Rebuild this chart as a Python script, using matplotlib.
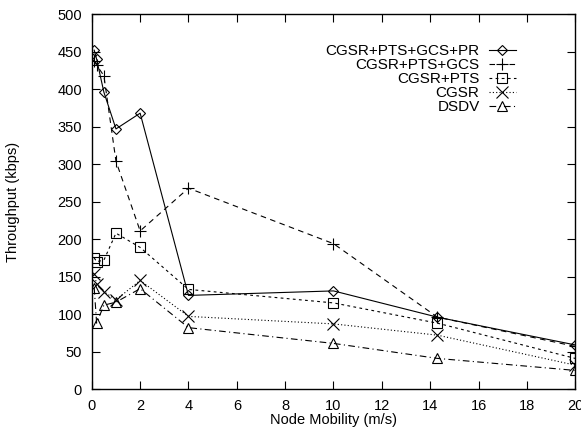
import matplotlib
matplotlib.use("Agg")
import matplotlib.pyplot as plt

x = [0.1, 0.2, 0.5, 1, 2, 4, 10, 14.3, 20]
pr = [452, 440, 396, 347, 368, 125, 131, 96, 59]
gcs = [438, 432, 418, 304, 211, 268, 194, 96, 57]
pts = [175, 170, 172, 208, 189, 133, 115, 88, 41]
cgsr = [154, 140, 130, 119, 145, 97, 87, 72, 32]
dsdv = [135, 88, 112, 116, 134, 82, 61, 41, 25]
labels = ["CGSR+PTS+GCS+PR", "CGSR+PTS+GCS", "CGSR+PTS", "CGSR", "DSDV"]

plt.rcParams['font.family'] = ['Liberation Sans', 'DejaVu Sans']
plt.rcParams['font.size'] = 10.5

fig = plt.figure(figsize=(5.81, 4.30), dpi=100)
ax = fig.add_axes([0.158, 0.095, 0.832, 0.872])

kw = dict(color='black', linewidth=0.8, markerfacecolor='none', markeredgecolor='black',
          markeredgewidth=0.8, markersize=7)
ax.plot(x, pr, linestyle='-', marker='D', label=labels[0], **{**kw, 'markersize': 5.5})
ax.plot(x, gcs, linestyle=(0, (5, 4)), marker='+', label=labels[1], **{**kw, 'markersize': 9})
ax.plot(x, pts, linestyle=(0, (2.5, 3)), marker='s', label=labels[2], **kw)
ax.plot(x, cgsr, linestyle=(0, (1, 2)), marker='x', label=labels[3], **{**kw, 'markersize': 8})
ax.plot(x, dsdv, linestyle=(0, (6, 3, 1, 3)), marker='^', label=labels[4], **kw)

ax.set_xlim(0, 20)
ax.set_ylim(0, 500)
ax.set_xticks(range(0, 21, 2))
ax.set_yticks(range(0, 501, 50))
ax.tick_params(direction='in', length=6, width=0.8, top=True, right=True, labelsize=10.5, pad=7)
for s in ax.spines.values():
    s.set_linewidth(1.0)

ax.set_xlabel("Node Mobility (m/s)", fontsize=10.5, labelpad=0)
ax.set_ylabel("Throughput (kbps)", fontsize=10.5, labelpad=27)

leg = ax.legend(loc='upper right', bbox_to_anchor=(0.878, 0.92), frameon=False, markerfirst=False,
                fontsize=11, handlelength=1.8, labelspacing=0.0, handletextpad=0.6,
                borderaxespad=0, borderpad=0)

fig.savefig("out.png", dpi=100)
